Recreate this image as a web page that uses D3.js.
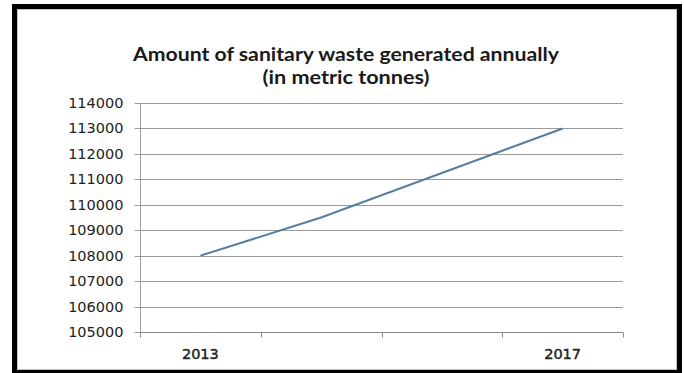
<!DOCTYPE html>
<html>
<head>
<meta charset="utf-8">
<script src="https://cdn.jsdelivr.net/npm/d3@7"></script>
<style>
  html, body { margin: 0; padding: 0; background: #fff; }
  svg { display: block; }
</style>
</head>
<body>
<svg id="chart" width="684" height="373"></svg>
<script>
// Annual sanitary waste, metric tonnes
const categories = ["2013", "", "", "2017"];
const values = [108000, 109500, 111250, 113000];
const yTicks = [105000, 106000, 107000, 108000, 109000, 110000, 111000, 112000, 113000, 114000];
const titleLines = ["Amount of sanitary waste generated annually", "(in metric tonnes)"];

const svg = d3.select("#chart");
const plot = { left: 140, right: 623, top: 103, bottom: 332 };

// outer black frame with a thin grey chart-area border inside it
svg.append("rect")
  .attr("x", 14.5).attr("y", 6.5)
  .attr("width", 665).attr("height", 366)
  .attr("fill", "#fff")
  .attr("stroke", "#000")
  .attr("stroke-width", 5);
svg.append("rect")
  .attr("x", 17.5).attr("y", 9.5)
  .attr("width", 659).attr("height", 360)
  .attr("fill", "none")
  .attr("stroke", "#c4c4c4")
  .attr("stroke-width", 1);

// title, two centred lines
const titleWidths = [426, 167];
svg.append("g").selectAll("text")
  .data(titleLines)
  .join("text")
  .attr("x", 346)
  .attr("y", (d, i) => 60.5 + i * 23.5)
  .attr("text-anchor", "middle")
  .attr("font-family", "Lato, 'Open Sans', sans-serif")
  .attr("font-weight", 700)
  .attr("font-size", 19.5)
  .attr("textLength", (d, i) => titleWidths[i])
  .attr("lengthAdjust", "spacingAndGlyphs")
  .attr("fill", "#1a1a1a")
  .text(d => d);

const x = d3.scaleBand()
  .domain(d3.range(categories.length))
  .range([plot.left, plot.right])
  .padding(0);

const y = d3.scaleLinear()
  .domain([105000, 114000])
  .range([plot.bottom, plot.top]);

// horizontal gridlines
svg.append("g")
  .selectAll("line")
  .data(yTicks.slice(1))
  .join("line")
  .attr("x1", plot.left).attr("x2", plot.right)
  .attr("y1", d => Math.round(y(d)) + 0.5)
  .attr("y2", d => Math.round(y(d)) + 0.5)
  .attr("stroke", "#9a9a9a")
  .attr("stroke-width", 1);

// y axis
const yAxis = svg.append("g")
  .attr("transform", `translate(${plot.left + 0.5},0)`)
  .call(d3.axisLeft(y).tickValues(yTicks).tickFormat(d3.format("d")).tickSize(6).tickPadding(11));
yAxis.select(".domain").attr("stroke", "#a0a0a0").attr("d", `M0,${plot.top}V${plot.bottom + 5}`);
yAxis.selectAll(".tick line").attr("stroke", "#9a9a9a");
yAxis.selectAll(".tick text")
  .attr("font-family", "'DejaVu Sans', Verdana, sans-serif")
  .attr("font-size", 14.5)
  .attr("fill", "#222");
yAxis.selectAll(".tick").attr("transform", d => `translate(0,${Math.round(y(d)) + 0.5})`);

// x axis with boundary ticks between categories
const xAxisG = svg.append("g").attr("transform", `translate(0,${Math.round(plot.bottom) + 0.5})`);
xAxisG.append("line")
  .attr("x1", plot.left).attr("x2", plot.right)
  .attr("stroke", "#8a8a8a");
const bounds = d3.range(categories.length + 1).map(i => i < categories.length ? x(i) : x(i - 1) + x.bandwidth());
xAxisG.selectAll("line.tk")
  .data(bounds)
  .join("line")
  .attr("class", "tk")
  .attr("x1", d => Math.round(d) + 0.5).attr("x2", d => Math.round(d) + 0.5)
  .attr("y1", 0).attr("y2", 5)
  .attr("stroke", "#8a8a8a");
xAxisG.selectAll("text")
  .data(categories.map((c, i) => ({ c, i })).filter(d => d.c))
  .join("text")
  .attr("x", d => x(d.i) + x.bandwidth() / 2)
  .attr("y", 26.5)
  .attr("text-anchor", "middle")
  .attr("font-family", "'DejaVu Sans', Verdana, sans-serif")
  .attr("font-size", 14.5)
  .attr("fill", "#222")
  .attr("stroke", "#222")
  .attr("stroke-width", 0.45)
  .text(d => d.c);

// series line
const line = d3.line()
  .x((d, i) => x(i) + x.bandwidth() / 2)
  .y(d => y(d));
svg.append("path")
  .datum(values)
  .attr("d", line)
  .attr("fill", "none")
  .attr("stroke", "#557f9f")
  .attr("stroke-width", 2);
</script>
</body>
</html>
